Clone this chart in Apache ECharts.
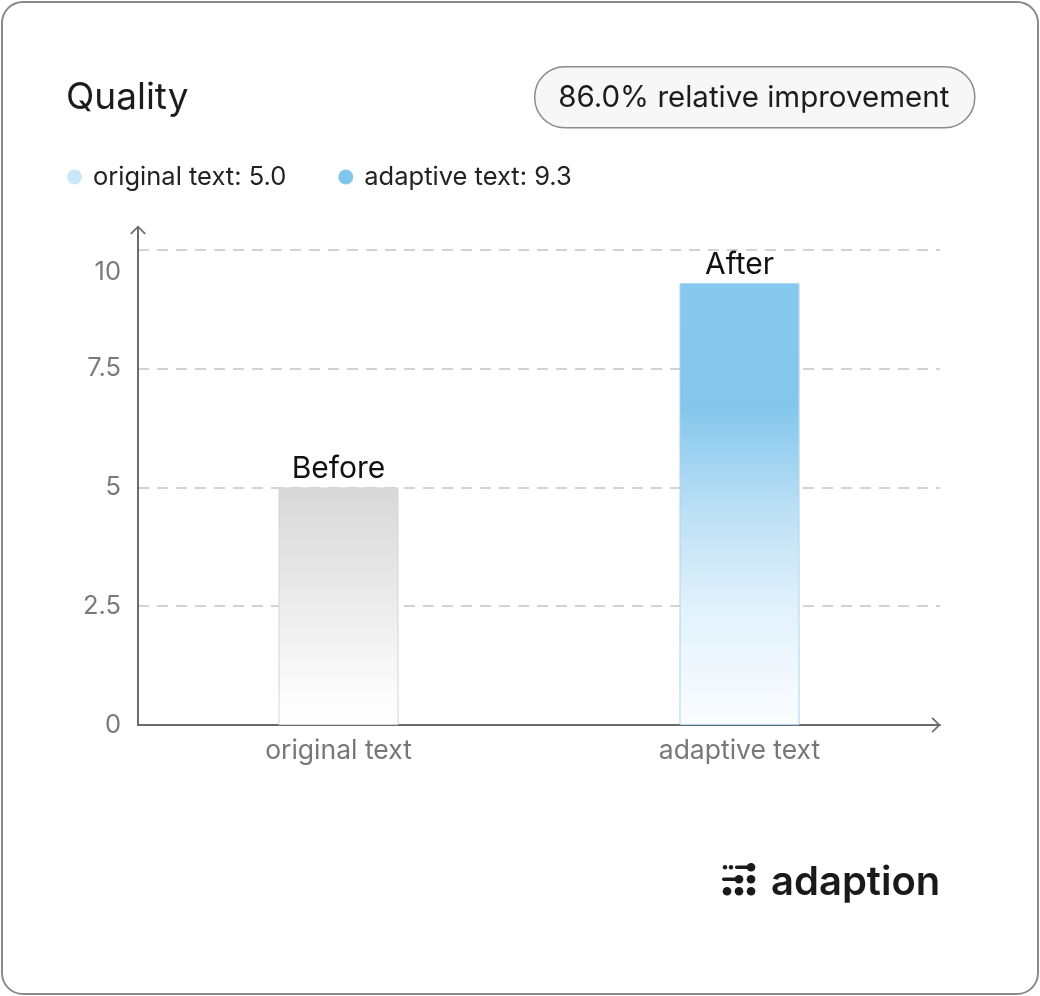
<!DOCTYPE html>
<html>
<head>
<meta charset="utf-8">
<script src="https://cdn.jsdelivr.net/npm/echarts@6/dist/echarts.min.js"></script>
<style>
html,body{margin:0;padding:0;background:#fff;}
#wrap{position:relative;width:1040px;height:996px;}
#chart{position:absolute;left:0;top:0;width:1040px;height:996px;}
#card{position:absolute;left:1px;top:1px;width:1038px;height:994px;box-sizing:border-box;border:2px solid #8a8a8a;border-radius:22px;pointer-events:none;}
</style>
</head>
<body>
<div id="wrap"><div id="chart"></div><div id="card"></div></div>
<script>
const categories = ['original text', 'adaptive text'];
const values = [5.0, 9.3];
const barLabels = ['Before', 'After'];
const yTicks = [0, 2.5, 5, 7.5, 10];
const legendNames = ['original text', 'adaptive text'];
const title = 'Quality';
const badge = '86.0% relative improvement';
const brand = 'adaption';

const FONT = 'Inter, "Noto Sans", sans-serif';
const chevron = 'path://M8 0 L16 8 L14.6 9.2 L8 2.4 L1.4 9.2 L0 8 Z';

const chart = echarts.init(document.getElementById('chart'), null, {renderer: 'canvas'});

function grad(stops) {
  return new echarts.graphic.LinearGradient(0, 0, 0, 1, stops);
}

const option = {
  backgroundColor: '#ffffff',
  animation: false,
  textStyle: {fontFamily: FONT},
  title: {
    text: title,
    left: 61, top: 74,
    textStyle: {fontFamily: FONT, fontSize: 37, fontWeight: 'normal', color: '#1c1c1c'}
  },
  legend: {
    left: 62, top: 159,
    icon: 'circle',
    itemWidth: 15, itemHeight: 15,
    itemGap: 52,
    data: [
      {name: legendNames[0], itemStyle: {color: '#c9e7f8', borderWidth: 0}},
      {name: legendNames[1], itemStyle: {color: '#80c5ec', borderWidth: 0}}
    ],
    formatter: function (name) {
      const i = legendNames.indexOf(name);
      return name + ': ' + values[i].toFixed(1);
    },
    textStyle: {fontFamily: FONT, fontSize: 25.5, color: '#222', padding: [0, 0, 0, 6]}
  },
  grid: {left: 138, right: 100, top: 228, bottom: 271, containLabel: false},
  xAxis: {
    type: 'category',
    data: categories,
    axisLine: {show: true, symbol: ['none', chevron], symbolSize: [16, 9], symbolOffset: [0, -4],
      lineStyle: {color: '#6b6b6b', width: 2}},
    axisTick: {show: false},
    axisLabel: {fontFamily: FONT, fontSize: 26.5, color: '#777', margin: 13},
    splitLine: {show: false}
  },
  yAxis: {
    type: 'value',
    min: 0, max: 10.46, interval: 2.5,
    axisLine: {show: true, symbol: ['none', chevron], symbolSize: [16, 9], symbolOffset: [0, -2],
      lineStyle: {color: '#6b6b6b', width: 2}},
    axisTick: {show: false},
    axisLabel: {
      fontFamily: FONT, fontSize: 25.5, color: '#7a7a7a', margin: 17,
      showMaxLabel: false,
      formatter: function (v) {
        if (yTicks.indexOf(v) < 0) return '';
        if (v === yTicks[yTicks.length - 1]) return '{low|' + v + '}';
        return String(v);
      },
      rich: {low: {fontFamily: FONT, fontSize: 25.5, color: '#7a7a7a', padding: [44, 0, 0, 0]}}
    },
    splitLine: {show: true, showMaxLine: false, showMinLine: false,
      lineStyle: {color: '#c4c4c4', width: 1.6, type: [11, 8]}}
  },
  series: [
    {
      name: legendNames[0],
      type: 'bar',
      barWidth: 120,
      barGap: '-100%',
      data: [values[0], '-'],
      itemStyle: {
        color: grad([{offset: 0, color: '#d8d8d8'}, {offset: 0.5, color: '#ececec'}, {offset: 0.9, color: '#fdfdfd'}, {offset: 1, color: '#ffffff'}]),
        borderColor: '#d4d4d4', borderWidth: 1
      },
      label: {show: true, position: 'top', distance: 3, formatter: function () { return barLabels[0]; },
        fontFamily: FONT, fontSize: 30, color: '#111'}
    },
    {
      name: legendNames[1],
      type: 'bar',
      barWidth: 120,
      data: ['-', values[1]],
      itemStyle: {
        color: grad([{offset: 0, color: '#86c8ee'}, {offset: 0.28, color: '#84c6ec'}, {offset: 0.5, color: '#b9def4'}, {offset: 0.73, color: '#e1f1fb'}, {offset: 1, color: '#fbfdff'}]),
        borderColor: '#a6d6f2', borderWidth: 1
      },
      label: {show: true, position: 'top', distance: 3, formatter: function () { return barLabels[1]; },
        fontFamily: FONT, fontSize: 30, color: '#111'}
    }
  ],
  graphic: [
    {
      type: 'group', left: 534, top: 66,
      children: [
        {type: 'rect', shape: {x: 0, y: 0, width: 440, height: 61, r: 30},
          style: {fill: '#f7f7f7', stroke: '#8c8c8c', lineWidth: 1.5}},
        {type: 'text', x: 219, y: 31, style: {text: badge, fontFamily: FONT, fontSize: 29.5, fill: '#1c1c1c', align: 'center', verticalAlign: 'middle'}}
      ]
    },
    {
      type: 'group', left: 722, top: 863,
      children: [
        {type: 'circle', shape: {cx: 4, cy: 6, r: 2.2}, style: {fill: '#1a1a1a'}},
        {type: 'circle', shape: {cx: 10, cy: 6, r: 2.2}, style: {fill: '#1a1a1a'}},
        {type: 'rect', shape: {x: 14, y: 4.2, width: 14, height: 3.6, r: 1.8}, style: {fill: '#1a1a1a'}},
        {type: 'circle', shape: {cx: 30, cy: 6, r: 4.3}, style: {fill: '#1a1a1a'}},
        {type: 'rect', shape: {x: 1, y: 16.2, width: 16, height: 3.6, r: 1.8}, style: {fill: '#1a1a1a'}},
        {type: 'circle', shape: {cx: 18, cy: 18, r: 4.3}, style: {fill: '#1a1a1a'}},
        {type: 'circle', shape: {cx: 30, cy: 18, r: 4.3}, style: {fill: '#1a1a1a'}},
        {type: 'circle', shape: {cx: 6, cy: 30, r: 4.3}, style: {fill: '#1a1a1a'}},
        {type: 'circle', shape: {cx: 18, cy: 30, r: 4.3}, style: {fill: '#1a1a1a'}},
        {type: 'circle', shape: {cx: 30, cy: 30, r: 4.3}, style: {fill: '#1a1a1a'}}
      ]
    },
    {
      type: 'text', left: 771, top: 863,
      style: {text: brand, fontFamily: FONT, fontSize: 40, fontWeight: 600, fill: '#1a1a1a'}
    }
  ]
};
chart.setOption(option);
</script>
</body>
</html>
